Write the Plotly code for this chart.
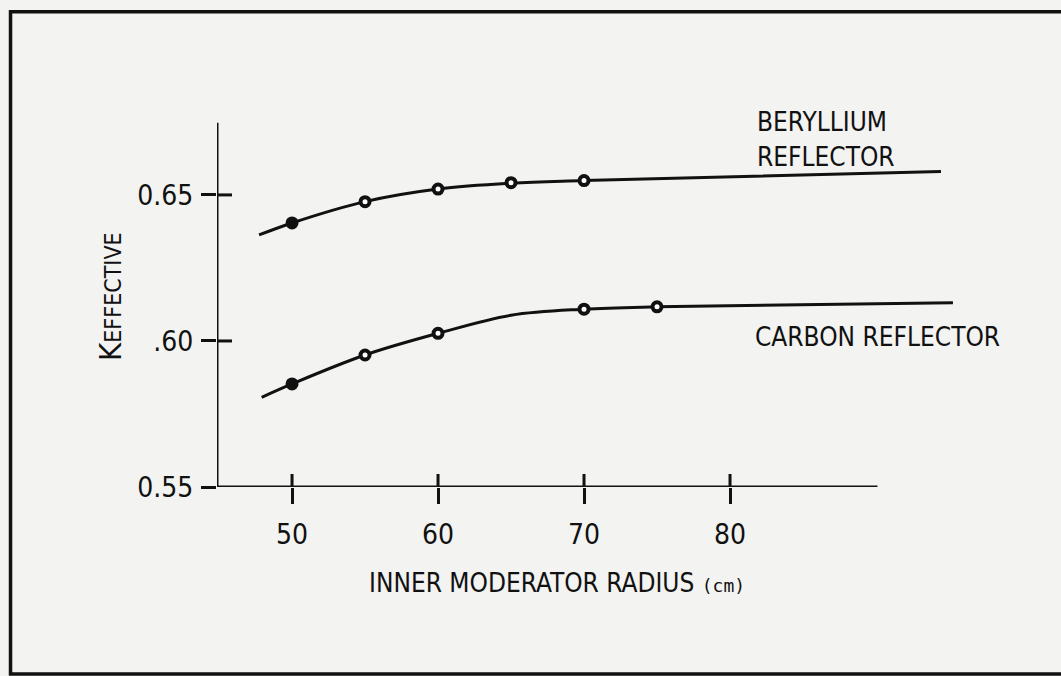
import plotly.graph_objects as go

# Measured points (open circles)
be_radius = [50, 55, 60, 65, 70]
be_keff = [0.6404, 0.6477, 0.6520, 0.6542, 0.6549]
c_radius = [50, 55, 60, 70, 75]
c_keff = [0.5853, 0.5952, 0.6026, 0.6109, 0.6117]

# Hand-drawn fitted curves through the points
be_curve_r = [47.74, 50, 55, 60, 65, 70, 94.45]
be_curve_k = [0.6363, 0.6404, 0.6477, 0.6520, 0.6540, 0.6549, 0.6580]
c_curve_r = [47.92, 50, 55, 60, 65, 70, 75, 95.27]
c_curve_k = [0.5807, 0.5853, 0.5952, 0.6026, 0.6088, 0.6109, 0.6117, 0.6131]

x_ticks = [50, 60, 70, 80]
x_tick_text = ["50", "60", "70", "80"]
y_ticks = [0.55, 0.60, 0.65]
y_tick_text = ["0.55", ".60", "0.65"]

X_MIN, X_MAX = 44.86, 100.0
Y_MIN, Y_MAX = 0.55, 0.6825
X_AXIS_END = 90.1
Y_AXIS_TOP = 0.6747

INK = "#111111"
PAPER = "#f3f3f2"
FONT = "Liberation Sans Narrow, DejaVu Sans Condensed, Arial Narrow, sans-serif"

fig = go.Figure()

for r, k in ((be_curve_r, be_curve_k), (c_curve_r, c_curve_k)):
    fig.add_trace(go.Scatter(
        x=r, y=k, mode="lines",
        line=dict(color=INK, width=3, shape="spline", smoothing=1.0),
        hoverinfo="skip", showlegend=False,
    ))

for r, k in ((be_radius, be_keff), (c_radius, c_keff)):
    fill = [INK if v == 50 else "white" for v in r]
    fig.add_trace(go.Scatter(
        x=r, y=k, mode="markers",
        marker=dict(symbol="circle", size=9, color=fill,
                    line=dict(color=INK, width=4)),
        showlegend=False,
    ))

shapes = []
# axis lines
shapes.append(dict(type="line", xref="x", yref="y", x0=X_MIN, x1=X_AXIS_END,
                   y0=Y_MIN, y1=Y_MIN, line=dict(color=INK, width=3)))
shapes.append(dict(type="line", xref="x", yref="y", x0=X_MIN, x1=X_MIN,
                   y0=Y_MIN, y1=Y_AXIS_TOP, line=dict(color=INK, width=3)))
# inner halves of the crossing tick marks
for t in x_ticks:
    shapes.append(dict(type="line", xref="x", yref="y", ysizemode="pixel",
                       yanchor=Y_MIN, y0=0, y1=13, x0=t, x1=t,
                       line=dict(color=INK, width=3)))
for t in y_ticks[1:]:
    shapes.append(dict(type="line", xref="x", yref="y", xsizemode="pixel",
                       xanchor=X_MIN, x0=0, x1=15, y0=t, y1=t,
                       line=dict(color=INK, width=3)))
# frame around the figure
shapes.append(dict(type="rect", xref="paper", yref="paper",
                   x0=-0.2565, x1=1.1, y0=-0.483, y1=1.228,
                   line=dict(color=INK, width=3.5)))

annotations = [
    dict(x=81.71, y=0.6750, xref="x", yref="y", text="BERYLLIUM",
         xanchor="left", yanchor="middle", showarrow=False),
    dict(x=81.71, y=0.6630, xref="x", yref="y", text="REFLECTOR",
         xanchor="left", yanchor="middle", showarrow=False),
    dict(x=81.57, y=0.6012, xref="x", yref="y", text="CARBON REFLECTOR",
         xanchor="left", yanchor="middle", showarrow=False),
    dict(x=0.4224, y=-0.248, xref="paper", yref="paper",
         text="INNER MODERATOR RADIUS <span style='font-size:18px;font-family:DejaVu Sans Mono'>(cm)</span>",
         xanchor="center", yanchor="middle", showarrow=False,
         font=dict(size=26)),
    dict(x=-0.1329, y=0.491, xref="paper", yref="paper",
         text="K<span style='font-size:23px'>EFFECTIVE</span>",
         textangle=-90, xanchor="center", yanchor="middle", showarrow=False,
         font=dict(size=31)),
]

fig.update_layout(
    width=1061, height=676,
    margin=dict(l=217, r=39, t=100, b=189),
    paper_bgcolor=PAPER, plot_bgcolor=PAPER,
    font=dict(family=FONT, size=26, color=INK),
    shapes=shapes, annotations=annotations,
    xaxis=dict(range=[X_MIN, X_MAX], showgrid=False, zeroline=False,
               showline=False, tickvals=x_ticks, ticktext=x_tick_text,
               ticks="outside", ticklen=16, tickwidth=3, tickcolor=INK,
               tickfont=dict(size=28), ticklabelstandoff=6),
    yaxis=dict(range=[Y_MIN, Y_MAX], showgrid=False, zeroline=False,
               showline=False, tickvals=y_ticks, ticktext=y_tick_text,
               ticks="outside", ticklen=15, tickwidth=3, tickcolor=INK,
               tickfont=dict(size=28), ticklabelstandoff=2),
)

fig.write_html("out.html")
